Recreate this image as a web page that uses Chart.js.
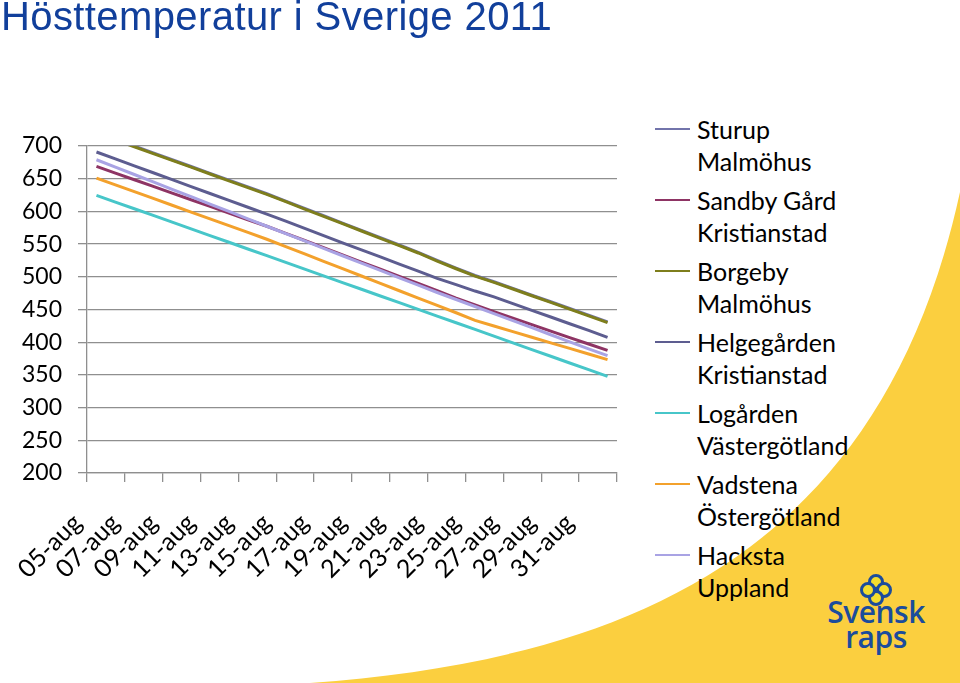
<!DOCTYPE html>
<html>
<head>
<meta charset="utf-8">
<script src="https://cdn.jsdelivr.net/npm/chart.js@4.4.1/dist/chart.umd.min.js"></script>
<style>
  html, body { margin:0; padding:0; background:#fff; width:960px; height:683px; overflow:hidden; }
  #stage { position:relative; width:960px; height:683px; }
  #swoosh { position:absolute; left:0; top:0; z-index:0; }
  #title { position:absolute; left:1px; top:-4px; font-family:"Liberation Sans", Arial, sans-serif; font-size:40px; line-height:40px; letter-spacing:0.4px; color:#113f9b; white-space:nowrap; z-index:2; }
  #chartWrap { position:absolute; left:0; top:0; width:640px; height:683px; z-index:1; }
  #legend { position:absolute; left:0; top:0; z-index:2; font-family:Lato, "Open Sans", sans-serif; font-size:25px; color:#000; }
  .item { position:absolute; left:655px; }
  .sw { position:absolute; left:0; width:35px; height:2.5px; top:15px; }
  .txt { position:absolute; left:42px; top:0; line-height:32.5px; white-space:nowrap; }
  #logo { position:absolute; left:800px; top:575px; width:152px; z-index:2; text-align:center; color:#1b4c9c; font-family:"Open Sans", sans-serif; font-weight:600; }
  #logo .l1 { position:absolute; left:0; width:152px; top:22px; font-size:30px; line-height:30px; letter-spacing:-0.5px; }
  #logo .l2 { position:absolute; left:0; width:152px; top:46.5px; font-size:30px; line-height:30px; letter-spacing:-0.5px; }
</style>
</head>
<body>
<div id="stage">
  <svg id="swoosh" width="960" height="683" viewBox="0 0 960 683">
    <path d="M 310 683 C 620 660, 880 560, 960 192 L 960 683 Z" fill="#fbcf3f"/>
  </svg>
  <div id="title">Hösttemperatur i Sverige 2011</div>
  <div id="chartWrap"><canvas id="c" width="640" height="683"></canvas></div>
  <div id="legend"></div>
  <div id="logo">
    <svg width="40" height="36" viewBox="0 0 40 36" style="position:absolute;left:56px;top:-4px">
      <g fill="#f3dd2e" stroke="#1b4c9c" stroke-width="3">
        <circle cx="20" cy="11" r="6.5"/>
        <circle cx="28" cy="19" r="6.5"/>
        <circle cx="20" cy="27" r="6.5"/>
        <circle cx="12" cy="19" r="6.5"/>
      </g>
    </svg>
    <div class="l1">Svensk</div>
    <div class="l2">raps</div>
  </div>
</div>
<script>
// ---- data ----
const dates = ['05-aug','06-aug','07-aug','08-aug','09-aug','10-aug','11-aug','12-aug','13-aug','14-aug',
  '15-aug','16-aug','17-aug','18-aug','19-aug','20-aug','21-aug','22-aug','23-aug','24-aug',
  '25-aug','26-aug','27-aug','28-aug','29-aug','30-aug','31-aug','01-sep'];
const yTicks = [200, 250, 300, 350, 400, 450, 500, 550, 600, 650, 700];
const seriesNames = [
  ['Sturup', 'Malmöhus'],
  ['Sandby Gård', 'Kristianstad'],
  ['Borgeby', 'Malmöhus'],
  ['Helgegården', 'Kristianstad'],
  ['Logården', 'Västergötland'],
  ['Vadstena', 'Östergötland'],
  ['Hacksta', 'Uppland']
];
const sturup      = [721, 710.5, 700, 689.5, 679, 668.6, 658.2, 647.8, 637.4, 627, 615.8, 604.6, 593.4, 582.2, 571, 559.8, 548.6, 537.4, 525, 513.3, 502, 492.5, 482.3, 472, 461.8, 451.5, 441.3, 431];
const sandby      = [668.8, 658.6, 648.4, 638.2, 628, 617.8, 607.6, 597.4, 587.2, 577.3, 566.5, 555.5, 544.5, 533.5, 522.5, 511.6, 500.7, 489.8, 479, 467.5, 457, 446.8, 436.8, 426.9, 417, 407.1, 397.3, 387.5];
const borgeby     = [719.6, 709.2, 698.8, 688.4, 678, 667.6, 657.2, 646.8, 636.4, 626, 614.8, 603.6, 592.4, 581.2, 570, 558.8, 547.6, 536.4, 524, 512.3, 501, 491.5, 481.3, 471, 460.8, 450.5, 440.3, 430];
const helgegarden = [690.8, 680.2, 669.7, 659.1, 648.5, 638, 627.4, 616.8, 606.3, 595.7, 585, 574, 563, 552, 541.3, 530.4, 519.5, 508.6, 497.6, 488, 478.2, 469.3, 459, 448.6, 438.5, 428.2, 418, 407.4];
const logarden    = [624.5, 614.3, 604, 593.8, 583.5, 573.3, 563, 552.8, 542.5, 532.3, 522, 511.8, 501.5, 491.2, 481, 470.7, 460.5, 450.2, 440, 429.7, 419.5, 409.2, 399, 388.7, 378.5, 368.2, 358, 347.7];
const vadstena    = [651, 640.6, 630.2, 619.8, 609.4, 599, 588.6, 578.2, 567.8, 557.4, 546.2, 535, 523.7, 512.4, 501.2, 490, 478.7, 467.4, 456.2, 445, 433.4, 424.8, 416.2, 407.6, 399, 390.5, 381.9, 373.3];
const hacksta     = [679, 667.7, 656.4, 645.1, 633.8, 622.5, 611.2, 599.9, 588.6, 577.3, 566, 554.8, 543.5, 532.2, 521, 509.7, 498.5, 487.2, 476, 465.3, 454.6, 443.8, 433, 422.2, 411.4, 400.6, 389.9, 379.4];
const colors = ['#7274ab', '#8e3464', '#7e7e1c', '#5d5d90', '#47c6c9', '#f3a12c', '#a9a3e4'];
const values = [sturup, sandby, borgeby, helgegarden, logarden, vadstena, hacksta];

// ---- chart ----
const gridColor = '#8f8f8f';
const tickFont = { family: 'Lato', size: 23 };
const datasets = values.map((v, i) => ({
  label: seriesNames[i].join(' '),
  data: v,
  borderColor: colors[i],
  backgroundColor: colors[i],
  borderWidth: 3,
  pointRadius: 0,
  tension: 0,
  fill: false,
  order: values.length - 1 - i
}));

new Chart(document.getElementById('c'), {
  type: 'line',
  data: { labels: dates, datasets },
  options: {
    responsive: false,
    animation: false,
    layout: { padding: { left: 0, top: 146, right: 23, bottom: 0 } },
    plugins: { legend: { display: false }, tooltip: { enabled: false } },
    scales: {
      x: {
        type: 'category',
        offset: true,
        grid: {
          offset: true,
          drawOnChartArea: false,
          drawTicks: true,
          tickLength: 9,
          lineWidth: 1.3,
          color: ctx => (ctx.index === undefined || ctx.index % 2 === 0) ? gridColor : 'rgba(0,0,0,0)'
        },
        border: { display: true, color: gridColor, width: 1.3 },
        ticks: {
          autoSkip: false,
          maxRotation: 45,
          minRotation: 45,
          font: { family: 'Lato', size: 25 },
          color: '#000',
          padding: 26,
          labelOffset: -19,
          callback: (v, i) => (i % 2 === 0 ? dates[i] : '')
        },
        afterFit: s => { s.height = 210; s.paddingLeft = 0; s.paddingRight = 0; }
      },
      y: {
        min: 200,
        max: 700,
        afterBuildTicks: s => { s.ticks = yTicks.map(v => ({ value: v })); },
        grid: { color: gridColor, lineWidth: 1.3, tickLength: 9, drawTicks: true },
        border: { display: true, color: gridColor, width: 1.3 },
        ticks: { font: tickFont, color: '#000', padding: 16 },
        afterFit: s => { s.width = 87; s.paddingTop = 0; s.paddingBottom = 0; }
      }
    }
  }
});

// ---- legend (HTML text) ----
const legend = document.getElementById('legend');
seriesNames.forEach((n, i) => {
  const it = document.createElement('div');
  it.className = 'item';
  it.style.top = (112.75 + i * 71) + 'px';
  const sw = document.createElement('div');
  sw.className = 'sw';
  sw.style.background = colors[i];
  const tx = document.createElement('div');
  tx.className = 'txt';
  tx.innerHTML = n[0] + '<br>' + n[1];
  it.appendChild(sw); it.appendChild(tx);
  legend.appendChild(it);
});
</script>
</body>
</html>
